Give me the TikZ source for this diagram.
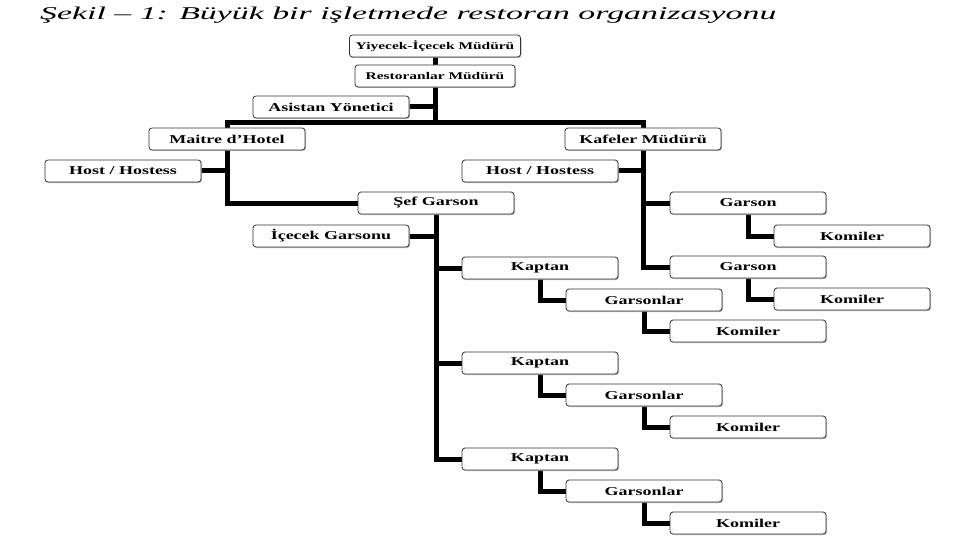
\documentclass[tikz,border=0pt]{standalone}
\usepackage{fontspec}
\setmainfont{Liberation Serif}
\newfontfamily\boxfont[FakeStretch=1.5]{Liberation Serif Bold}
\newfontfamily\titlefont[FakeStretch=1.88]{Liberation Serif Italic}
\usetikzlibrary{shadows,backgrounds}
\begin{document}
\begin{tikzpicture}[x=1pt,y=-1pt,
  box/.style={draw=black!80,line width=0.8pt,rounded corners=3pt,fill=white,
    minimum width=156pt,minimum height=22pt,inner sep=0pt,
    drop shadow={shadow xshift=1pt,shadow yshift=-1pt,fill=black!35,opacity=0.8},
    font=\boxfont\fontsize{12}{12}\selectfont},
  topbox/.style={box,font=\boxfont\fontsize{10.3}{10.3}\selectfont},
  conn/.style={line width=5pt,draw=black}]
\useasboundingbox (0,0) rectangle (960,540);
\node[anchor=west,inner sep=0pt,font=\titlefont\fontsize{18}{18}\selectfont] (title) at (40,15) {Şekil – 1: Büyük bir işletmede restoran organizasyonu};

\node[topbox,minimum width=171pt] (yic) at (435,46) {Yiyecek-İçecek Müdürü};
\node[topbox,minimum width=160pt] (rm) at (435,76) {Restoranlar Müdürü};
\node[box] (asist) at (331,107) {Asistan Yönetici};
\coordinate (j1) at (435,123);
\node[box] (maitre) at (227,139) {Maitre d’Hotel};
\node[box] (kafe) at (643,139) {Kafeler Müdürü};
\node[box] (hostL) at (123,171) {Host / Hostess};
\node[box] (sef) at (436,203) {Şef Garson};
\node[box] (icecek) at (331,236) {İçecek Garsonu};

\node[box] (kap1) at (540,268) {Kaptan};
\node[box] (gars1) at (644,300) {Garsonlar};
\node[box] (kom1) at (748,331) {Komiler};
\node[box] (kap2) at (540,363) {Kaptan};
\node[box] (gars2) at (644,395) {Garsonlar};
\node[box] (kom2) at (748,427) {Komiler};
\node[box] (kap3) at (540,459) {Kaptan};
\node[box] (gars3) at (644,491) {Garsonlar};
\node[box] (kom3) at (748,523) {Komiler};

\node[box] (hostR) at (540,171) {Host / Hostess};
\node[box] (garR1) at (748,203) {Garson};
\node[box] (komR1) at (852,236) {Komiler};
\node[box] (garR2) at (748,267) {Garson};
\node[box] (komR2) at (852,299) {Komiler};

\begin{pgfonlayer}{background}
\draw[conn] (yic) -- (rm);
\draw[conn] (rm) -- (j1);
\draw[conn] (asist.east) -- (asist.east -| j1);
\draw[conn] (maitre.north) |- (j1) -| (kafe.north);
\draw[conn] (maitre.south) |- (sef.west);
\draw[conn] (hostL.east) -- (hostL.east -| maitre.south);
\draw[conn] (sef.south) |- (kap3.west);
\draw[conn] (icecek.east) -- (icecek.east -| sef.south);
\draw[conn] (kap1.west) -- (kap1.west -| sef.south);
\draw[conn] (kap2.west) -- (kap2.west -| sef.south);
\draw[conn] (kap1.south) |- (gars1.west);
\draw[conn] (gars1.south) |- (kom1.west);
\draw[conn] (kap2.south) |- (gars2.west);
\draw[conn] (gars2.south) |- (kom2.west);
\draw[conn] (kap3.south) |- (gars3.west);
\draw[conn] (gars3.south) |- (kom3.west);
\draw[conn] (kafe.south) |- (garR2.west);
\draw[conn] (hostR.east) -- (hostR.east -| kafe.south);
\draw[conn] (garR1.west) -- (garR1.west -| kafe.south);
\draw[conn] (garR1.south) |- (komR1.west);
\draw[conn] (garR2.south) |- (komR2.west);
\end{pgfonlayer}
\end{tikzpicture}
\end{document}
